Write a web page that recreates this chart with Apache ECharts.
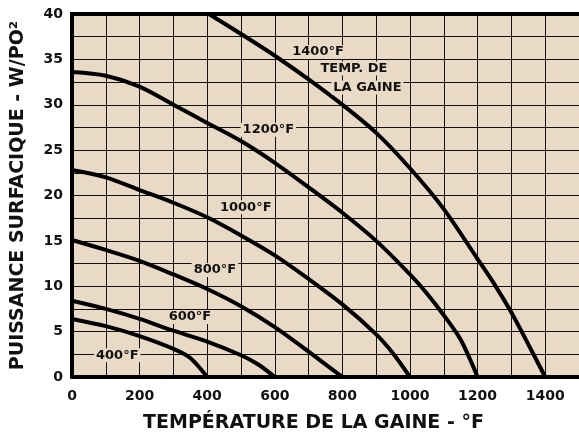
<!DOCTYPE html>
<html>
<head>
<meta charset="utf-8">
<script src="https://cdn.jsdelivr.net/npm/echarts@6/dist/echarts.min.js"></script>
<style>
html,body{margin:0;padding:0;background:#fff;}
#chart{width:579px;height:438px;}
</style>
</head>
<body>
<div id="chart"></div>
<script>
// Data (temperature °F, surface power W/in²)
var t400 = [0, 100, 200, 300, 350, 400];
var w400 = [6.4, 5.6, 4.5, 3.1, 2.1, 0];
var t600 = [0, 100, 200, 300, 400, 500, 550, 600];
var w600 = [8.4, 7.5, 6.4, 5.1, 3.9, 2.4, 1.4, 0];
var t800 = [0, 100, 200, 300, 400, 500, 600, 700, 750, 800];
var w800 = [15.1, 14.0, 12.8, 11.3, 9.7, 7.8, 5.5, 2.8, 1.4, 0];
var t1000 = [0, 100, 200, 300, 400, 500, 600, 700, 800, 900, 950, 1000];
var w1000 = [22.8, 22.0, 20.6, 19.2, 17.6, 15.6, 13.4, 10.8, 8.0, 4.7, 2.6, 0];
var t1200 = [0, 100, 200, 300, 400, 500, 600, 700, 800, 900, 1000, 1050, 1100, 1150, 1200];
var w1200 = [33.6, 33.2, 32.0, 30.0, 28.0, 26.0, 23.6, 20.9, 18.1, 15.0, 11.3, 9.2, 6.8, 4.1, 0];
var t1400 = [405, 500, 600, 700, 800, 900, 1000, 1100, 1200, 1250, 1300, 1350, 1400];
var w1400 = [40, 37.8, 35.4, 32.8, 30.0, 26.9, 23.0, 18.5, 13.0, 10.2, 7.1, 3.6, 0];

var labelTexts = ['1400°F', 'TEMP. DE', 'LA GAINE', '1200°F', '1000°F', '800°F', '600°F', '400°F'];
var labelT = [728, 834, 874, 581, 514, 423, 349, 134];
var labelW = [35.8, 34.0, 31.9, 27.25, 18.7, 11.8, 6.6, 2.4];

var xTitle = 'TEMPÉRATURE DE LA GAINE - °F';
var yTitle = 'PUISSANCE SURFACIQUE - W/PO²';

function pairs(t, w) { return t.map(function (v, i) { return [v, w[i]]; }); }

var BG = '#e8dac5';
var curves = [[t400, w400], [t600, w600], [t800, w800], [t1000, w1000], [t1200, w1200], [t1400, w1400]];
var series = curves.map(function (c) {
  return {
    type: 'line', data: pairs(c[0], c[1]), smooth: 0.3, symbol: 'none',
    lineStyle: { color: '#000', width: 4 }, z: 3, clip: true
  };
});

var chart = echarts.init(document.getElementById('chart'));
chart.setOption({
  animation: false,
  grid: { left: 72, top: 14, bottom: 60, width: 511, backgroundColor: BG, show: true, borderWidth: 0 },
  xAxis: {
    type: 'value', min: 0, max: 1500, interval: 200,
    axisLine: { show: true, onZero: false, lineStyle: { color: '#000', width: 4 } },
    axisTick: { show: false },
    axisLabel: { margin: 12, fontFamily: 'DejaVu Sans', fontWeight: 'bold', fontSize: 14, color: '#111',
      formatter: function (v) { return String(v); } },
    splitLine: { show: true, lineStyle: { color: '#111', width: 1 } },
    minorTick: { show: false, splitNumber: 2 },
    minorSplitLine: { show: true, lineStyle: { color: '#111', width: 1 } },
    name: xTitle, nameLocation: 'middle', nameGap: 37,
    nameTextStyle: { fontFamily: 'DejaVu Sans', fontWeight: 'bold', fontSize: 19, color: '#111', padding: [0, 24, 0, 0] }
  },
  yAxis: {
    type: 'value', min: 0, max: 40, interval: 5,
    axisLine: { show: true, lineStyle: { color: '#000', width: 4 } },
    axisTick: { show: false },
    axisLabel: { margin: 9, fontFamily: 'DejaVu Sans', fontWeight: 'bold', fontSize: 14, color: '#111',
      formatter: function (v) { return String(v); } },
    splitLine: { show: true, lineStyle: { color: '#111', width: 1 } },
    minorTick: { show: false, splitNumber: 2 },
    minorSplitLine: { show: true, lineStyle: { color: '#111', width: 1 } },
    name: yTitle, nameLocation: 'middle', nameGap: 44, nameRotate: 90,
    nameTextStyle: { fontFamily: 'DejaVu Sans', fontWeight: 'bold', fontSize: 19, color: '#111' }
  },
  series: series
});

var graphics = [{
  type: 'line', z: 10,
  shape: { x1: 70, y1: 14, x2: 583, y2: 14 },
  style: { stroke: '#000', lineWidth: 4 }
}];
labelTexts.forEach(function (txt, i) {
  var p = chart.convertToPixel({ gridIndex: 0 }, [labelT[i], labelW[i]]);
  graphics.push({
    type: 'text', z: 20, x: p[0], y: p[1],
    style: {
      text: txt, fill: '#111', font: 'bold 13px "DejaVu Sans"',
      align: 'center', verticalAlign: 'middle',
      backgroundColor: BG, padding: [1, 2, 0, 2]
    }
  });
});
chart.setOption({ graphic: graphics });
</script>
</body>
</html>
